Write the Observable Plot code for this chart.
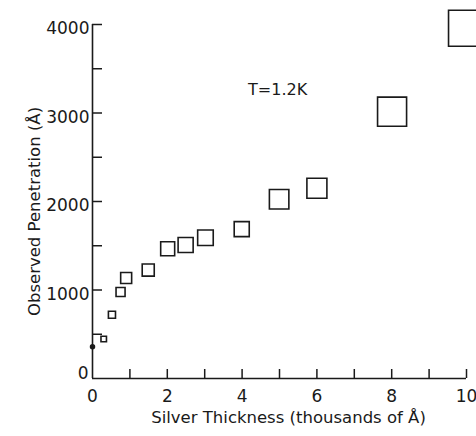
<!DOCTYPE html>
<html><head><meta charset="utf-8">
<script src="https://cdn.jsdelivr.net/npm/d3@7"></script>
<script src="https://cdn.jsdelivr.net/npm/@observablehq/plot@0.6"></script>
<style>body{margin:0;background:#fff;overflow:hidden}</style>
</head><body><div id="chart"></div>
<script>
// Data
const thickness   = [0.30, 0.52, 0.75, 0.90, 1.49, 2.01, 2.49, 3.02, 3.99, 4.99, 6.00, 8.01, 10.0]; // thousands of Å
const penetration = [446, 720, 977, 1135, 1225, 1466, 1508, 1590, 1688, 2025, 2149, 3015, 3958];  // Å
const uncertainty = [31, 40, 51, 62, 68, 79, 85, 88, 85, 110, 113, 164, 203];                      // ± Å (half box)
const bareThickness = [0];
const barePenetration = [360];
const xTicks = [1, 2, 3, 4, 5, 6, 7, 8, 9, 10];
const xTickLabels = [0, 2, 4, 6, 8, 10];
const yTicks = [500, 1000, 1500, 2000, 2500, 3000, 3500, 4000];
const yTickLabels = [1000, 2000, 3000, 4000];
const yZeroLabel = [0];
const xTitle = "Silver Thickness (thousands of Å)";
const yTitle = "Observed Penetration (Å)";
const note = "T=1.2K";

const points = thickness.map((t, i) => ({t, p: penetration[i], e: uncertainty[i]}));
const bare = bareThickness.map((t, i) => ({t, p: barePenetration[i]}));

const W = 476, H = 436, mL = 92, mR = 10, mT = 24, mB = 58;
const innerW = W - mL - mR, innerH = H - mT - mB;
const ky = innerH / 4000;
const ink = "#1a1a1a";
const font = "'DejaVu Sans', sans-serif";

const chart = Plot.plot({
  width: W, height: H,
  marginLeft: mL, marginRight: mR, marginTop: mT, marginBottom: mB,
  style: {fontFamily: font, color: ink, background: "#fff"},
  x: {domain: [0, 10], axis: null},
  y: {domain: [0, 4000], axis: null},
  r: {type: "linear", domain: [0, 1], range: [0, 2 * ky / Math.sqrt(Math.PI)]},
  marks: [
    Plot.ruleX([0], {stroke: ink, strokeWidth: 1.6}),
    Plot.ruleY([0], {stroke: ink, strokeWidth: 1.6}),
    Plot.tickX(xTicks, {x: d => d, stroke: ink, strokeWidth: 1.5, insetTop: innerH - 9}),
    Plot.tickY(yTicks, {y: d => d, stroke: ink, strokeWidth: 1.5, insetRight: innerW - 10}),
    Plot.axisX({ticks: xTickLabels, tickSize: 0, tickPadding: 11, fontSize: 17, label: null, fill: ink, tickFormat: d => String(d)}),
    Plot.axisY({ticks: yTickLabels, anchor: "left", tickSize: 0, tickPadding: 3, dy: 4.5, fontSize: 17, label: null, fill: ink, tickFormat: d => String(d)}),
    Plot.axisY({ticks: yZeroLabel, anchor: "left", tickSize: 0, tickPadding: 4, dy: -5, fontSize: 17, label: null, fill: ink, tickFormat: d => String(d)}),
    Plot.dot(points, {x: "t", y: "p", r: "e", symbol: "square", stroke: ink, strokeWidth: 1.6, fill: "none"}),
    Plot.dot(bare, {x: "t", y: "p", r: 2, fill: ink, stroke: ink}),
    Plot.text([xTitle], {frameAnchor: "bottom", text: d => d, textAnchor: "middle", dx: 9, dy: 39.5, lineAnchor: "middle", fontSize: 16.5, fill: ink}),
    Plot.text([yTitle], {frameAnchor: "left", text: d => d, textAnchor: "middle", rotate: -90, dx: -58, dy: 10, lineAnchor: "middle", fontSize: 16.5, fill: ink}),
    Plot.text([note], {x: [4.95], y: [3260], text: d => d, textAnchor: "middle", lineAnchor: "middle", fontSize: 16, fill: ink})
  ]
});
document.getElementById("chart").append(chart);
</script>
</body></html>
